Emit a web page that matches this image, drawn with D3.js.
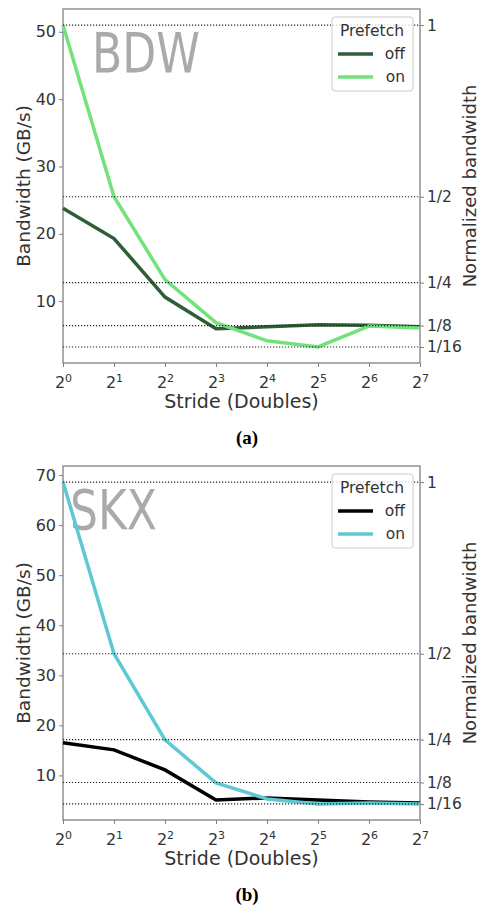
<!DOCTYPE html>
<html>
<head>
<meta charset="utf-8">
<script src="https://cdn.jsdelivr.net/npm/d3@7"></script>
<style>
  body { margin: 0; background: #fff; }
  text { font-family: "DejaVu Sans", sans-serif; }
</style>
</head>
<body>
<svg id="chart" width="483" height="912"></svg>
<script>
// stride exponents: 2^0 .. 2^7 doubles
var strides = [1, 2, 4, 8, 16, 32, 64, 128];
var fracLabels = ["1", "1/2", "1/4", "1/8", "1/16"];
var fracDiv = [1, 2, 4, 8, 16];

// BDW bandwidth (GB/s)
var bdwOff = [23.8, 19.3, 10.6, 5.9, 6.2, 6.5, 6.4, 6.2];
var bdwOn = [51.0, 25.5, 13.2, 6.8, 4.1, 3.2, 6.3, 6.0];
var bdwTicks = [10, 20, 30, 40, 50];

// SKX bandwidth (GB/s)
var skxOff = [16.5, 15.1, 11.1, 5.1, 5.5, 5.1, 4.7, 4.5];
var skxOn = [68.6, 34.3, 17.1, 8.5, 5.3, 4.3, 4.5, 4.3];
var skxTicks = [10, 20, 30, 40, 50, 60, 70];

var svg = d3.select("#chart");
svg.append("rect").attr("width", 483).attr("height", 912).attr("fill", "#fff");

function drawPanel(top, name, off, on, yTicks, offColor, onColor, caption, nameLen) {
    var left = 63, right = 420, bottom = top + 354;
    var g = svg.append("g");

    var x = d3.scaleLog().base(2)
        .domain([1, 128])
        .range([left, right]);

    var all = off.concat(on);
    var lo = d3.min(all), hi = d3.max(all), pad = (hi - lo) * 0.05;
    var y = d3.scaleLinear()
        .domain([lo - pad, hi + pad])
        .range([bottom, top]);

    var base = d3.max(on);

    // frame
    g.append("rect")
        .attr("x", left).attr("y", top)
        .attr("width", right - left).attr("height", bottom - top)
        .attr("fill", "none").attr("stroke", "#808080").attr("stroke-width", 1.3);

    // big label
    g.append("text")
        .attr("x", name == "BDW" ? 92 : 70)
        .attr("y", top + 63)
        .attr("font-size", 55)
        .attr("fill", "#aaaaaa")
        .attr("textLength", nameLen)
        .attr("lengthAdjust", "spacingAndGlyphs")
        .text(name);

    var line = d3.line()
        .x(function (d, i) { return x(strides[i]); })
        .y(function (d) { return y(d); });

    g.append("path").datum(off)
        .attr("d", line).attr("fill", "none")
        .attr("stroke", offColor).attr("stroke-width", 3.5);
    g.append("path").datum(on)
        .attr("d", line).attr("fill", "none")
        .attr("stroke", onColor).attr("stroke-width", 3.5);

    // normalized reference lines
    g.selectAll(".ref")
        .data(fracDiv)
        .enter().append("line")
        .attr("x1", left).attr("x2", right)
        .attr("y1", function (d) { return y(base / d); })
        .attr("y2", function (d) { return y(base / d); })
        .attr("stroke", "#222").attr("stroke-width", 1.2)
        .attr("stroke-dasharray", "1.2,1.8");

    // axes
    var xAxis = g.append("g")
        .attr("transform", "translate(0," + bottom + ")")
        .call(d3.axisBottom(x).tickValues(strides).tickSize(4).tickPadding(4));
    xAxis.selectAll(".tick text").text(null)
        .attr("font-size", 16).attr("fill", "#333").attr("dy", "1.05em")
        .each(function (d) {
            var t = d3.select(this);
            t.append("tspan").text("2");
            t.append("tspan").attr("font-size", 11).attr("dy", "-0.5em")
                .text(Math.round(Math.log2(d)));
        });

    var yAxis = g.append("g")
        .attr("transform", "translate(" + left + ",0)")
        .call(d3.axisLeft(y).tickValues(yTicks).tickSize(4).tickPadding(3));
    yAxis.selectAll(".tick text").attr("font-size", 16).attr("fill", "#333");

    var rAxis = g.append("g")
        .attr("transform", "translate(" + right + ",0)")
        .call(d3.axisRight(y)
            .tickValues(fracDiv.map(function (d) { return base / d; }))
            .tickFormat(function (d, i) { return fracLabels[i]; })
            .tickSize(4).tickPadding(3));
    rAxis.selectAll(".tick text").attr("font-size", 15.5).attr("fill", "#333");

    g.selectAll(".domain").attr("stroke", "none");
    g.selectAll(".tick line").attr("stroke", "#808080");

    // axis titles
    g.append("text")
        .attr("transform", "translate(30," + (top + bottom) / 2 + ") rotate(-90)")
        .attr("text-anchor", "middle").attr("font-size", 18.5).attr("fill", "#333")
        .text("Bandwidth (GB/s)");
    g.append("text")
        .attr("transform", "translate(476," + (top + bottom) / 2 + ") rotate(-90)")
        .attr("text-anchor", "middle").attr("font-size", 18).attr("fill", "#333")
        .text("Normalized bandwidth");
    g.append("text")
        .attr("x", (left + right) / 2).attr("y", bottom + 45)
        .attr("text-anchor", "middle").attr("font-size", 19).attr("fill", "#333")
        .text("Stride (Doubles)");

    // legend
    var lg = g.append("g").attr("transform", "translate(332," + (top + 8) + ")");
    lg.append("rect")
        .attr("width", 81).attr("height", 74).attr("rx", 3)
        .attr("fill", "#fff").attr("fill-opacity", 0.8)
        .attr("stroke", "#cccccc");
    lg.append("text")
        .attr("x", 40).attr("y", 19).attr("text-anchor", "middle")
        .attr("font-size", 15.5).attr("fill", "#333").text("Prefetch");
    var items = [["off", offColor], ["on", onColor]];
    items.forEach(function (it, i) {
        var yy = 37 + i * 23;
        lg.append("line")
            .attr("x1", 6).attr("x2", 41).attr("y1", yy).attr("y2", yy)
            .attr("stroke", it[1]).attr("stroke-width", 3.5);
        lg.append("text")
            .attr("x", 73).attr("y", yy + 5).attr("text-anchor", "end")
            .attr("font-size", 15.5).attr("fill", "#333").text(it[0]);
    });

    // caption
    svg.append("text")
        .attr("x", 247).attr("y", bottom + 81)
        .attr("text-anchor", "middle")
        .style("font-family", "'Liberation Serif', serif")
        .attr("font-weight", "bold").attr("font-size", 19)
        .text(caption);
}

drawPanel(9, "BDW", bdwOff, bdwOn, bdwTicks, "#2e5e37", "#72e27c", "(a)", 108);
drawPanel(466, "SKX", skxOff, skxOn, skxTicks, "#000000", "#5ec8d3", "(b)", 87);
</script>
</body>
</html>
